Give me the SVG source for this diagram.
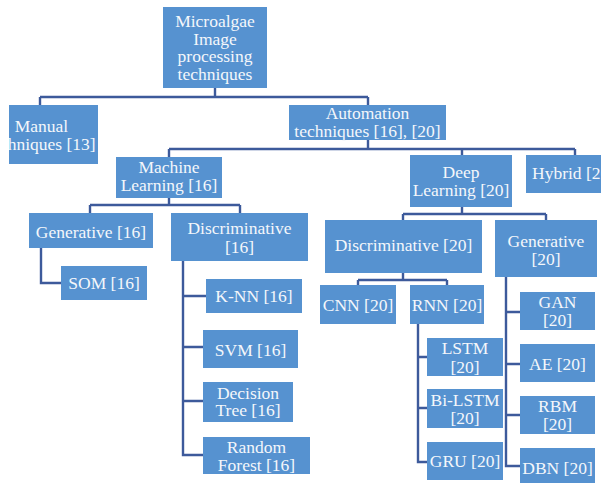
<svg xmlns="http://www.w3.org/2000/svg" width="601" height="483" viewBox="0 0 601 483">
<defs>
<style>
.box{fill:#5692d0;}
.t{font-family:'Liberation Serif','Times New Roman','DejaVu Serif',serif;font-size:17.5px;fill:#f4f7fb;text-anchor:middle;}
.c{fill:none;stroke:#3d5a9b;stroke-width:2.4;}
</style>
<clipPath id="clipManual"><rect x="9" y="105" width="89" height="59"/></clipPath>
<clipPath id="clipHybrid"><rect x="526" y="155" width="75" height="38"/></clipPath>
</defs>
<rect width="601" height="483" fill="#ffffff"/>
<g id="connectors" class="c">
<path d="M215,88 V97 M40,97 H368 M40,97 V105 M368,97 V105"/>
<path d="M368,140 V149 M169,149 H575 M169,149 V157 M462,149 V155 M575,149 V155"/>
<path d="M169,198 V205 M90,205 H240 M90,205 V213 M240,205 V213"/>
<path d="M41,248 V283 H61"/>
<path d="M183,261 V455 H203 M183,296 H206 M183,347 H203 M183,401 H203"/>
<path d="M462,207 V214 M403,214 H546 M403,214 V220 M546,214 V220"/>
<path d="M403,273 V280 M358,280 H447 M358,280 V285 M447,280 V285"/>
<path d="M418,324 V462 H427 M418,357 H427 M418,408 H427"/>
<path d="M506,277 V466 H520 M506,312 H520 M506,364 H520 M506,415 H520"/>
</g>
<g id="root"><rect class="box" x="163" y="7" width="104" height="81"/>
<text class="t" font-family="Liberation Serif" x="215" y="27">Microalgae</text><text class="t" x="215" y="44.5">Image</text><text class="t" x="215" y="62">processing</text><text class="t" x="215" y="79.5">techniques</text></g>
<g id="manual"><rect class="box" x="9" y="105" width="89" height="59"/>
<g clip-path="url(#clipManual)"><text class="t" x="41.5" y="132">Manual</text><text class="t" x="41.5" y="150">techniques [13]</text></g></g>
<g id="automation"><rect class="box" x="289" y="105" width="157" height="35"/>
<text class="t" x="367.5" y="118.5">Automation</text><text class="t" x="367.5" y="137">techniques [16], [20]</text></g>
<g id="ml"><rect class="box" x="116" y="157" width="106" height="41"/>
<text class="t" x="169" y="173">Machine</text><text class="t" x="169" y="191">Learning [16]</text></g>
<g id="dl"><rect class="box" x="410" y="155" width="102" height="52"/>
<text class="t" x="461" y="178">Deep</text><text class="t" x="461" y="196">Learning [20]</text></g>
<g id="hybrid"><rect class="box" x="526" y="155" width="75" height="38"/>
<g clip-path="url(#clipHybrid)"><text class="t" x="532" y="179" style="text-anchor:start">Hybrid [20]</text></g></g>
<g id="gen16"><rect class="box" x="29" y="213" width="124" height="35"/>
<text class="t" x="91" y="238">Generative [16]</text></g>
<g id="disc16"><rect class="box" x="171" y="213" width="137" height="48"/>
<text class="t" x="239.5" y="234">Discriminative</text><text class="t" x="239.5" y="253">[16]</text></g>
<g id="som"><rect class="box" x="61" y="266" width="86" height="34"/>
<text class="t" x="104" y="289">SOM [16]</text></g>
<g id="knn"><rect class="box" x="206" y="279" width="96" height="34"/>
<text class="t" x="254" y="302">K-NN [16]</text></g>
<g id="svm"><rect class="box" x="203" y="330" width="95" height="38"/>
<text class="t" x="250.5" y="356">SVM [16]</text></g>
<g id="dt"><rect class="box" x="203" y="382" width="90" height="40"/>
<text class="t" x="248" y="399">Decision</text><text class="t" x="248" y="416">Tree [16]</text></g>
<g id="rf"><rect class="box" x="203" y="437" width="107" height="37"/>
<text class="t" x="256.5" y="453">Random</text><text class="t" x="256.5" y="471">Forest [16]</text></g>
<g id="disc20"><rect class="box" x="325" y="220" width="157" height="53"/>
<text class="t" x="403.5" y="251">Discriminative [20]</text></g>
<g id="gen20"><rect class="box" x="495" y="220" width="102" height="57"/>
<text class="t" x="546" y="247">Generative</text><text class="t" x="546" y="265">[20]</text></g>
<g id="cnn"><rect class="box" x="320" y="285" width="76" height="39"/>
<text class="t" x="358" y="311">CNN [20]</text></g>
<g id="rnn"><rect class="box" x="410" y="285" width="74" height="39"/>
<text class="t" x="447" y="311">RNN [20]</text></g>
<g id="lstm"><rect class="box" x="427" y="338" width="76" height="38"/>
<text class="t" x="465" y="354">LSTM</text><text class="t" x="465" y="373">[20]</text></g>
<g id="bilstm"><rect class="box" x="427" y="389" width="76" height="39"/>
<text class="t" x="465" y="406">Bi-LSTM</text><text class="t" x="465" y="424">[20]</text></g>
<g id="gru"><rect class="box" x="427" y="442" width="76" height="38"/>
<text class="t" x="465" y="467">GRU [20]</text></g>
<g id="gan"><rect class="box" x="520" y="292" width="75" height="38"/>
<text class="t" x="557.5" y="308">GAN</text><text class="t" x="557.5" y="326">[20]</text></g>
<g id="ae"><rect class="box" x="520" y="344" width="75" height="38"/>
<text class="t" x="557.5" y="370">AE [20]</text></g>
<g id="rbm"><rect class="box" x="520" y="396" width="75" height="38"/>
<text class="t" x="557.5" y="412">RBM</text><text class="t" x="557.5" y="430">[20]</text></g>
<g id="dbn"><rect class="box" x="520" y="448" width="75" height="35"/>
<text class="t" x="557.5" y="474">DBN [20]</text></g>
</svg>
